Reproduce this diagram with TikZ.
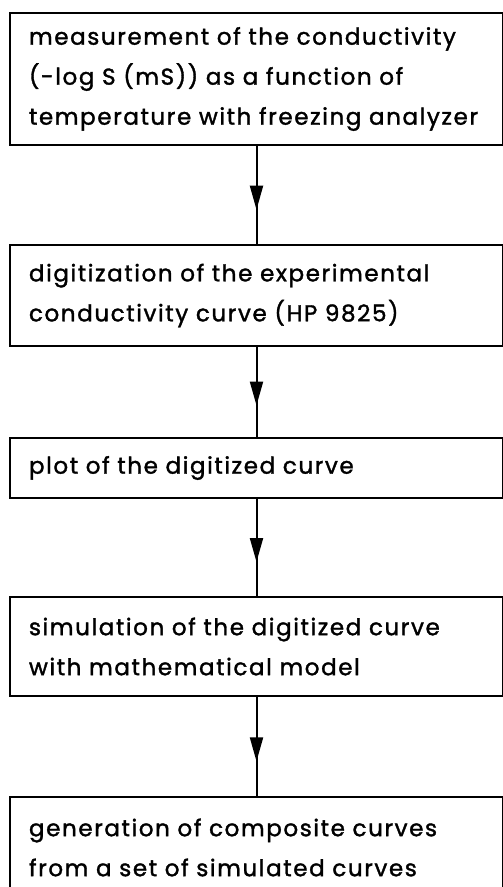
\documentclass[tikz,border=0pt]{standalone}
\usepackage{fontspec}
\setmainfont{Poppins}[LetterSpace=7, WordSpace=2.8, FakeBold=1.5]
\usetikzlibrary{positioning, arrows.meta, decorations.markings}

\begin{document}
\begin{tikzpicture}[x=1pt,y=1pt,node distance=98pt,
    stepbox/.style={draw, line width=2pt, text width=455pt, inner xsep=19pt,
      inner ysep=0pt, align=left, font=\fontsize{23}{40}\selectfont},
    flow/.style={line width=2pt, postaction={decorate},
      decoration={markings, mark=at position 0.65 with
        {\arrow{Triangle[length=24pt,width=13pt]}}}}]
       \useasboundingbox (0,0) rectangle (503,-887);

       \node[stepbox,minimum height=132pt,anchor=north west] (meas) at (9,-12)
         {measurement of the conductivity\\(-log S (mS)) as a function of\\temperature with freezing analyzer};
       \node[stepbox,minimum height=101pt] (digit) [below=98pt of meas]
         {digitization of the experimental\\conductivity curve (HP 9825)};
       \node[stepbox,minimum height=60pt] (plot) [below=90pt of digit]
         {plot of the digitized curve};
       \node[stepbox,minimum height=99pt] (simul) [below=97pt of plot]
         {simulation of the digitized curve\\with mathematical model};
       \node[stepbox,minimum height=101pt] (comp) [below=99pt of simul]
         {generation of composite curves\\from a set of simulated curves};

       \draw[flow] (meas) -- (digit);
       \draw[flow] (digit) -- (plot);
       \draw[flow] (plot) -- (simul);
       \draw[flow] (simul) -- (comp);
\end{tikzpicture}
\end{document}
